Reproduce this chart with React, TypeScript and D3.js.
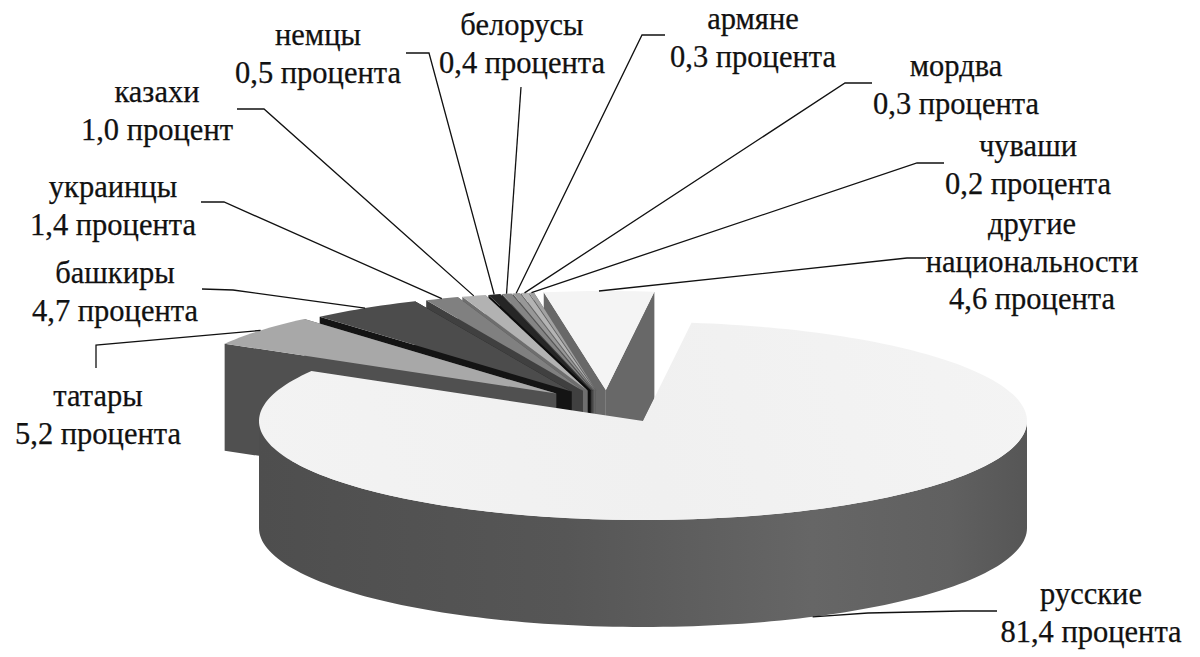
import { formatLocale, line, pie, range, scaleLinear } from "d3";

const nations = [
  "русские",
  "татары",
  "башкиры",
  "украинцы",
  "казахи",
  "немцы",
  "белорусы",
  "армяне",
  "мордва",
  "чуваши",
  "другие национальности"
];
const shares = [81.4, 5.2, 4.7, 1.4, 1.0, 0.5, 0.4, 0.3, 0.3, 0.2, 4.6];
const topColors = ["#f2f2f2", "#a8a8a8", "#4c4c4c", "#808080", "#b2b2b2", "#262626", "#858585", "#989898", "#b4b4b4", "#a2a2a2", "#f4f4f4"];
const sideColors = ["#5a5a5a", "#505050", "#141414", "#404040", "#6e6e6e", "#0c0c0c", "#3a3a3a", "#555555", "#666666", "#606060", "#686868"];

// label block: centre x, first baseline, and the elbow points of the leader
const labelLayout = [
  { x: 1091, y: 604, leader: [[997, 611], [962, 611], [868, 613]] },
  { x: 98, y: 406, leader: [[96, 368], [96, 345]] },
  { x: 115, y: 283, leader: [[202, 289], [233, 290]] },
  { x: 113, y: 197, leader: [[201, 202], [224, 202]] },
  { x: 157, y: 102, leader: [[237, 109], [264, 109]] },
  { x: 318, y: 45, leader: [[406, 53], [429, 53]] },
  { x: 522, y: 35, leader: [[521, 87]] },
  { x: 753, y: 29, leader: [[665, 35], [642, 35]] },
  { x: 956, y: 76, leader: [[872, 83], [845, 83]] },
  { x: 1028, y: 156, leader: [[944, 163], [917, 163]] },
  { x: 1032, y: 234, leader: [[926, 258], [907, 258]] }
];

const width = 1200;
const height = 657;
const cx = 643;
const cy = 421;
const rx = 384;
const ry = 99;
const depth = 107;
const toRad = Math.PI / 180;
const firstAngle = 7.26 * toRad;

const ru = formatLocale({ decimal: ",", thousands: " ", grouping: [3], currency: ["", ""] });
const fmt = ru.format(".1f");

const slices = pie<number>()
  .sort(null)
  .startAngle(firstAngle)
  .endAngle(firstAngle + 2 * Math.PI)(shares);

type Pt = [number, number];

// pulled-out wedges sit on a shifted apex, the first slice stays at the centre
function apexOf(index: number, mid: number): Pt {
  if (index === 0) return [cx, cy];
  return [cx - 36 + 66 * Math.sin(mid), cy - 21 - 10 * Math.cos(mid)];
}

function rim(apex: Pt, angle: number): Pt {
  return [apex[0] + rx * Math.sin(angle), apex[1] - ry * Math.cos(angle)];
}

function drop(points: Pt[]): Pt[] {
  return points.map(([x, y]) => [x, y + depth] as Pt);
}

function arcPoints(apex: Pt, a0: number, a1: number): Pt[] {
  const steps = Math.max(2, Math.ceil((a1 - a0) / (1.5 * toRad)));
  const t = scaleLinear().domain([0, steps]).range([a0, a1]);
  return range(steps + 1).map((i) => rim(apex, t(i)));
}

const path = line<Pt>();
const closed = (points: Pt[]) => `${path(points)}Z`;

const wedges = slices.map((s) => {
  const mid = (s.startAngle + s.endAngle) / 2;
  const apex = apexOf(s.index, mid);
  const start = rim(apex, s.startAngle);
  const end = rim(apex, s.endAngle);
  return {
    index: s.index,
    top: closed([apex, ...arcPoints(apex, s.startAngle, s.endAngle)]),
    rightWall: closed([apex, start, ...drop([start, apex])]),
    leftWall: closed([apex, end, ...drop([end, apex])]),
    anchor: s.index === 0 ? ([rim(apex, mid)[0], rim(apex, mid)[1] + depth] as Pt) : rim(apex, mid)
  };
});

const frontArc = arcPoints([cx, cy], 90 * toRad, 270 * toRad);
const frontWall = closed([...frontArc, ...drop(frontArc).reverse()]);

const serif = "'Liberation Serif', 'Times New Roman', serif";

export default function App() {
  const lead = wedges[0];
  const pulled = wedges.slice(1).reverse();

  return (
    <div style={{ position: "absolute", left: 0, top: 0 }}>
      <svg width={width} height={height} viewBox={`0 0 ${width} ${height}`} style={{ display: "block", background: "#fff" }}>
        <defs>
          <linearGradient id="wall" gradientUnits="userSpaceOnUse" x1={cx - rx} x2={cx + rx} y1={0} y2={0}>
            <stop offset="0" stopColor="#4e4e4e" />
            <stop offset="0.4" stopColor="#565656" />
            <stop offset="0.72" stopColor="#666666" />
            <stop offset="0.9" stopColor="#606060" />
            <stop offset="1" stopColor="#565656" />
          </linearGradient>
          <linearGradient id="lid" gradientUnits="userSpaceOnUse" x1={cx - rx} x2={cx + rx} y1={cy + ry} y2={cy - ry}>
            <stop offset="0" stopColor="#f3f3f3" />
            <stop offset="0.5" stopColor="#f0f0f0" />
            <stop offset="1" stopColor="#f4f4f4" />
          </linearGradient>
        </defs>

        {pulled.map((w) => (
          <g key={w.index}>
            <path d={w.rightWall} fill={sideColors[w.index]} />
            <path d={w.leftWall} fill={sideColors[w.index]} />
            <path d={w.top} fill={topColors[w.index]} />
          </g>
        ))}

        <path d={frontWall} fill="url(#wall)" />
        <path d={lead.top} fill="url(#lid)" />

        {wedges.map((w) => (
          <path
            key={w.index}
            d={path([...(labelLayout[w.index].leader as Pt[]), w.anchor]) ?? ""}
            fill="none"
            stroke="#111"
            strokeWidth={1.3}
          />
        ))}

        {nations.map((name, i) => {
          const { x, y } = labelLayout[i];
          const words = name.split(" ");
          const unit = shares[i] === 1 ? "процент" : "процента";
          return (
            <text key={name} x={x} y={y} textAnchor="middle" fontFamily={serif} fontSize={30.5} fill="#111" stroke="#111" strokeWidth={0.25}>
              {[...words, `${fmt(shares[i])} ${unit}`].map((row, r) => (
                <tspan key={row} x={x} dy={r === 0 ? 0 : 37.5}>
                  {row}
                </tspan>
              ))}
            </text>
          );
        })}
      </svg>
    </div>
  );
}
